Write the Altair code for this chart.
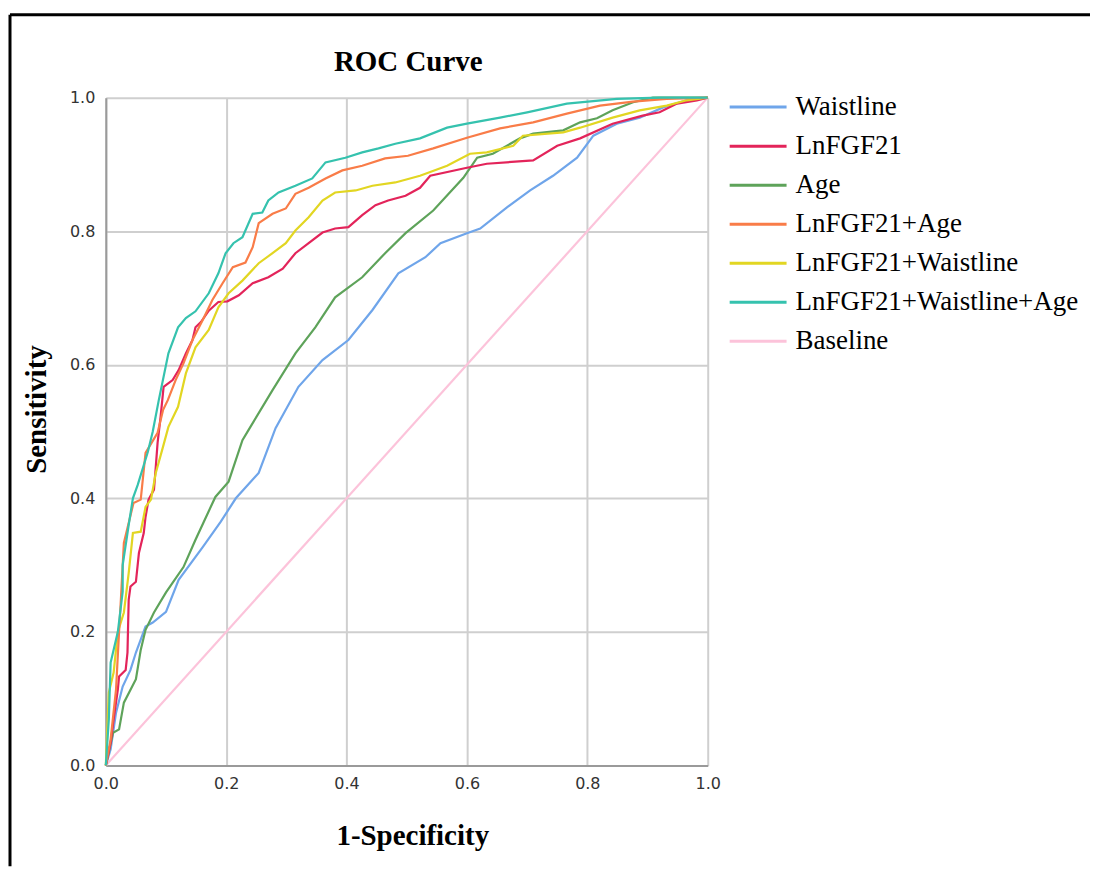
import altair as alt
import pandas as pd

series_names = ["Waistline", "LnFGF21", "Age", "LnFGF21+Age", "LnFGF21+Waistline",
                "LnFGF21+Waistline+Age", "Baseline"]
series_colors = ["#6fa5ea", "#e3245a", "#5ea35a", "#f97c48", "#e2d622", "#35c2ae", "#fcc3da"]

waist_x = [0, 0.008, 0.017, 0.028, 0.041, 0.05, 0.066, 0.078, 0.1, 0.121, 0.161, 0.191, 0.216,
           0.254, 0.282, 0.32, 0.36, 0.403, 0.443, 0.486, 0.531, 0.556, 0.6, 0.622, 0.667, 0.705,
           0.743, 0.783, 0.81, 0.849, 0.887, 0.925, 0.965, 1.0]
waist_y = [0, 0.024, 0.079, 0.118, 0.143, 0.169, 0.208, 0.214, 0.230, 0.278, 0.327, 0.365, 0.4,
           0.438, 0.505, 0.567, 0.607, 0.637, 0.682, 0.737, 0.761, 0.782, 0.797, 0.804, 0.836, 0.861,
           0.883, 0.910, 0.943, 0.961, 0.970, 0.985, 0.996, 1.0]

fgf_x = [0, 0.008, 0.013, 0.02, 0.022, 0.033, 0.036, 0.038, 0.041, 0.05,
         0.055, 0.063, 0.066, 0.071, 0.08, 0.083, 0.086, 0.091, 0.096, 0.111,
         0.121, 0.133, 0.144, 0.149, 0.158, 0.171, 0.187, 0.202, 0.221, 0.244,
         0.270, 0.294, 0.315, 0.337, 0.36, 0.381, 0.403, 0.426, 0.448, 0.469,
         0.498, 0.522, 0.539, 0.6, 0.633, 0.71, 0.75, 0.788, 0.842, 0.892,
         0.92, 0.949, 0.982, 1.0]
fgf_y = [0, 0.034, 0.069, 0.114, 0.133, 0.143, 0.169, 0.248, 0.268, 0.275,
         0.318, 0.348, 0.372, 0.398, 0.413, 0.447, 0.483, 0.522, 0.567, 0.577,
         0.592, 0.617, 0.637, 0.656, 0.664, 0.681, 0.694, 0.695, 0.704, 0.722,
         0.731, 0.744, 0.767, 0.782, 0.798, 0.804, 0.806, 0.824, 0.839, 0.846,
         0.853, 0.865, 0.883, 0.895, 0.901, 0.906, 0.928, 0.939, 0.961, 0.973,
         0.978, 0.991, 0.996, 1.0]

age_x = [0, 0.012, 0.022, 0.03, 0.05, 0.058, 0.066, 0.08, 0.1, 0.129,
         0.149, 0.182, 0.204, 0.227, 0.237, 0.277, 0.315, 0.348, 0.381, 0.426,
         0.464, 0.498, 0.544, 0.594, 0.617, 0.643, 0.688, 0.71, 0.76, 0.788,
         0.816, 0.842, 0.876, 0.909, 1.0]
age_y = [0, 0.049, 0.054, 0.094, 0.129, 0.173, 0.203, 0.229, 0.259, 0.297,
         0.338, 0.402, 0.425, 0.487, 0.502, 0.562, 0.617, 0.656, 0.701, 0.731,
         0.767, 0.797, 0.831, 0.88, 0.910, 0.916, 0.939, 0.946, 0.951, 0.963,
         0.969, 0.981, 0.993, 1.0, 1.0]

fgf_age_x = [0, 0.008, 0.017, 0.022, 0.025, 0.03, 0.046, 0.058, 0.066, 0.086,
             0.095, 0.103, 0.116, 0.129, 0.144, 0.161, 0.177, 0.194, 0.211, 0.232,
             0.244, 0.254, 0.277, 0.299, 0.315, 0.337, 0.365, 0.393, 0.426, 0.464,
             0.502, 0.544, 0.6, 0.655, 0.71, 0.766, 0.821, 0.876, 0.932, 1.0]
fgf_age_y = [0, 0.039, 0.114, 0.2, 0.248, 0.333, 0.393, 0.398, 0.468, 0.498,
             0.532, 0.547, 0.577, 0.602, 0.637, 0.667, 0.697, 0.722, 0.746, 0.753,
             0.776, 0.812, 0.826, 0.834, 0.856, 0.865, 0.879, 0.891, 0.898, 0.909,
             0.913, 0.924, 0.94, 0.954, 0.963, 0.976, 0.988, 0.994, 0.998, 1.0]

fgf_waist_x = [0, 0.005, 0.013, 0.02, 0.03, 0.038, 0.045, 0.058, 0.066, 0.075,
               0.083, 0.095, 0.104, 0.12, 0.133, 0.149, 0.171, 0.187, 0.204, 0.227,
               0.254, 0.277, 0.299, 0.315, 0.337, 0.36, 0.381, 0.415, 0.443, 0.481,
               0.522, 0.567, 0.605, 0.633, 0.677, 0.693, 0.76, 0.788, 0.842, 0.887,
               0.932, 0.965, 1.0]
fgf_waist_y = [0, 0.109, 0.139, 0.2, 0.229, 0.288, 0.348, 0.35, 0.387, 0.398,
               0.438, 0.477, 0.507, 0.537, 0.587, 0.626, 0.652, 0.686, 0.707, 0.726,
               0.752, 0.767, 0.782, 0.801, 0.821, 0.846, 0.858, 0.861, 0.868, 0.873,
               0.883, 0.898, 0.916, 0.918, 0.928, 0.943, 0.948, 0.955, 0.970, 0.981,
               0.988, 0.996, 1.0]

all3_x = [0, 0.005, 0.008, 0.02, 0.028, 0.028, 0.038, 0.045, 0.053, 0.07,
          0.078, 0.088, 0.104, 0.12, 0.133, 0.149, 0.171, 0.187, 0.199, 0.212,
          0.227, 0.244, 0.26, 0.27, 0.287, 0.315, 0.343, 0.365, 0.398, 0.426,
          0.453, 0.481, 0.522, 0.567, 0.6, 0.655, 0.7, 0.766, 0.849, 0.92,
          1.0]
all3_y = [0, 0.069, 0.154, 0.2, 0.26, 0.3, 0.36, 0.4, 0.42, 0.47,
          0.5, 0.547, 0.617, 0.656, 0.67, 0.68, 0.707, 0.737, 0.767, 0.782,
          0.791, 0.826, 0.828, 0.846, 0.858, 0.868, 0.879, 0.903, 0.91, 0.918,
          0.924, 0.931, 0.939, 0.955, 0.961, 0.970, 0.978, 0.991, 0.998, 1.0,
          1.0]

base_x = [0, 1.0]
base_y = [0, 1.0]

tick_values = [0, 0.2, 0.4, 0.6, 0.8, 1.0]

series_data = [
    ("Baseline", base_x, base_y),
    ("Waistline", waist_x, waist_y),
    ("Age", age_x, age_y),
    ("LnFGF21", fgf_x, fgf_y),
    ("LnFGF21+Waistline", fgf_waist_x, fgf_waist_y),
    ("LnFGF21+Age", fgf_age_x, fgf_age_y),
    ("LnFGF21+Waistline+Age", all3_x, all3_y),
]
rows = []
for name, xs, ys in series_data:
    for i, (a, b) in enumerate(zip(xs, ys)):
        rows.append({"series": name, "fpr": a, "tpr": b, "idx": i})
df = pd.DataFrame(rows)

lines = alt.Chart(df).mark_line(strokeWidth=2.2).encode(
    x=alt.X("fpr:Q", scale=alt.Scale(domain=[0, 1], nice=False),
            axis=alt.Axis(values=tick_values, format=".1f", title="1-Specificity",
                          labelPadding=10, titleX=307, titleY=79,
                          titleBaseline="alphabetic", labelFlush=False)),
    y=alt.Y("tpr:Q", scale=alt.Scale(domain=[0, 1], nice=False),
            axis=alt.Axis(values=tick_values, format=".1f", title="Sensitivity",
                          labelPadding=11, titleX=-60, titleY=312, titleAngle=270,
                          titleBaseline="alphabetic", titleAlign="center",
                          labelFlush=False)),
    color=alt.Color("series:N",
                    scale=alt.Scale(domain=series_names, range=series_colors),
                    legend=alt.Legend(title=None, orient="none", legendX=640, legendY=-4,
                                      symbolType="M-3,0H3", symbolSize=361,
                                      symbolStrokeWidth=3, labelFont="Liberation Serif",
                                      labelFontSize=27, labelColor="black",
                                      labelOffset=24, rowPadding=11.1, padding=0,
                                      labelLimit=0)),
    order=alt.Order("idx:Q"),
)

title_layer = alt.Chart(alt.Data(values=[{"t": "ROC Curve"}])).mark_text(
    font="Liberation Serif", fontSize=29, fontWeight="bold", color="black",
    align="center", baseline="alphabetic"
).encode(text="t:N", x=alt.value(303), y=alt.value(-27))

frame_v = alt.Chart(alt.Data(values=[{"a": 1}])).mark_rule(
    color="black", strokeWidth=3
).encode(x=alt.value(-96), y=alt.value(-83), y2=alt.value(770))

frame_h = alt.Chart(alt.Data(values=[{"a": 1}])).mark_rule(
    color="black", strokeWidth=3
).encode(x=alt.value(-96), x2=alt.value(986), y=alt.value(-83))

chart = alt.layer(lines, title_layer, frame_v, frame_h).properties(
    width=603, height=669,
    padding={"left": 0, "top": 4, "right": 0, "bottom": 0},
).configure_view(stroke=None).configure_axis(
    gridColor="#cfcfcf", gridWidth=2, domainColor="#9a9a9a", domainWidth=2,
    ticks=False, labelFont="DejaVu Sans", labelFontSize=16, labelColor="#333333",
    titleFont="Liberation Serif", titleFontSize=29, titleFontWeight="bold",
    titleColor="black",
)

chart.save("out.html", embed_options={"renderer": "svg", "actions": False})
